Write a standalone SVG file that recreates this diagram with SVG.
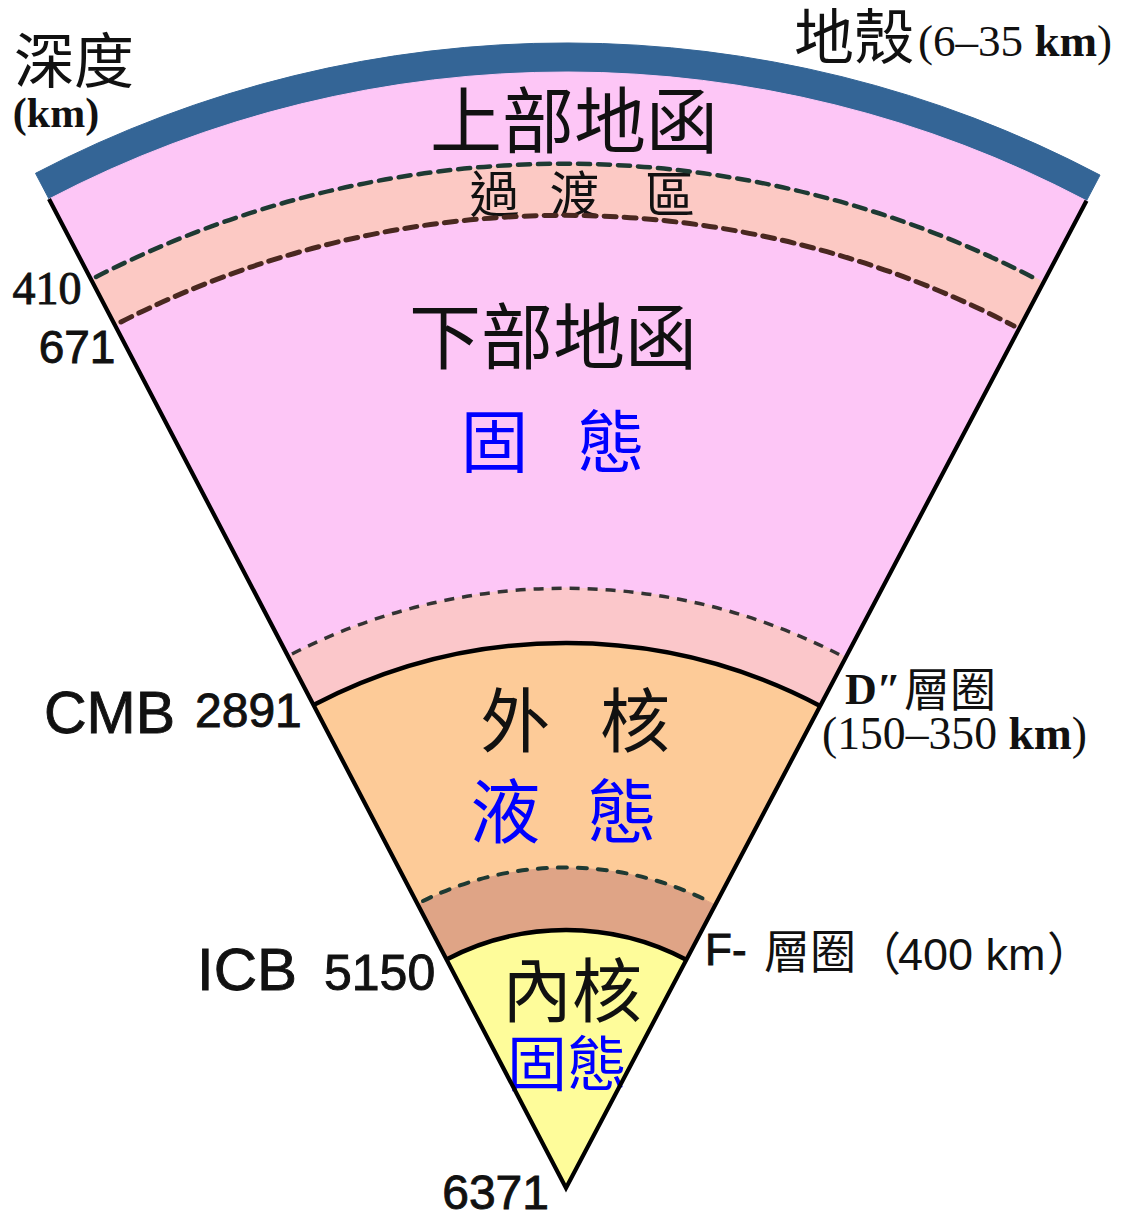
<svg xmlns="http://www.w3.org/2000/svg" width="1124" height="1215" viewBox="0 0 1124 1215">
<style>
.cjk{font-family:"Noto Sans CJK TC","Noto Sans CJK SC",sans-serif;fill:#111}
.blue{fill:#0000ff}
.sans{font-family:"Liberation Sans",Arial,sans-serif;fill:#111}
.heavy{stroke:#111;stroke-width:0.9}
.serif{font-family:"Liberation Serif","Times New Roman",serif;fill:#111}
.bold{font-weight:bold}
.edge{fill:none;stroke:#000;stroke-width:4.2;stroke-linejoin:miter}
.solid{fill:none;stroke:#000;stroke-width:4.5}
.dashA{fill:none;stroke:#1e3a33;stroke-width:4.5;stroke-dasharray:12 8;stroke-linecap:round}
.dashB{fill:none;stroke:#4a2820;stroke-width:5;stroke-dasharray:12 8;stroke-linecap:round}
.dashC{fill:none;stroke:#333;stroke-width:3.5;stroke-dasharray:10 8}
.dashD{fill:none;stroke:#1e3a33;stroke-width:4;stroke-dasharray:9 11;stroke-linecap:round}
</style>
<rect width="1124" height="1215" fill="#fff"/>

<g id="crust">
<path d="M35.5,173.3 A1145,1145 0 0 1 1100,175.1 L1086.5,200.8 A1116,1116 0 0 0 49,199 Z" fill="#346596" stroke="#346596" stroke-width="1"/>
</g>

<g id="upper-mantle">
<path d="M49,199 A1116,1116 0 0 1 1086.5,200.8 L1043.6,282.2 A1024,1024 0 0 0 91.6,280.5 Z" fill="#fdc6f6" stroke="#fdc6f6" stroke-width="1"/>
<text class="cjk" x="574" y="147" font-size="72" text-anchor="middle">上部地函</text>
</g>

<g id="transition-zone">
<path d="M91.6,280.5 A1024,1024 0 0 1 1043.6,282.2 L1019.3,328.2 A972,972 0 0 0 115.7,326.6 Z" fill="#fcc9c4" stroke="#fcc9c4" stroke-width="1"/>
<text class="cjk" y="213" font-size="50" text-anchor="middle"><tspan x="500">過</tspan> <tspan x="580">渡</tspan> <tspan x="670">區</tspan></text>
</g>

<g id="lower-mantle">
<path d="M115.7,326.6 A972,972 0 0 1 1019.3,328.2 L845.8,657.2 A600,600 0 0 0 288,656.3 Z" fill="#fdc6f6" stroke="#fdc6f6" stroke-width="1"/>
<text class="cjk" x="553" y="363" font-size="72" text-anchor="middle">下部地函</text>
<text class="cjk blue" y="467" font-size="68" text-anchor="middle"><tspan x="502">固</tspan> <tspan x="611">態</tspan></text>
</g>

<g id="d-double-prime">
<path d="M288,656.3 A600,600 0 0 1 845.8,657.2 L820.2,705.9 A545,545 0 0 0 313.5,705 Z" fill="#fbc7ca" stroke="#fbc7ca" stroke-width="1"/>
</g>

<g id="outer-core">
<path d="M313.5,705 A545,545 0 0 1 820.2,705.9 L715.2,904.9 A320,320 0 0 0 417.7,904.4 Z" fill="#fdcb98" stroke="#fdcb98" stroke-width="1"/>
<text class="cjk" y="747" font-size="70" text-anchor="middle"><tspan x="523">外</tspan> <tspan x="635">核</tspan></text>
<text class="cjk blue" y="838" font-size="70" text-anchor="middle"><tspan x="513">液</tspan> <tspan x="622">態</tspan></text>
</g>

<g id="f-layer">
<path d="M417.7,904.4 A320,320 0 0 1 715.2,904.9 L686.3,959.8 A258,258 0 0 0 446.5,959.4 Z" fill="#dfa486" stroke="#dfa486" stroke-width="1"/>
</g>

<g id="inner-core">
<path d="M446.5,959.4 A258,258 0 0 1 686.3,959.8 L566,1188 Z" fill="#fefc9a" stroke="#fefc9a" stroke-width="1"/>
<text class="cjk" x="572" y="1017" font-size="70" text-anchor="middle">內核</text>
<text class="cjk blue" x="567" y="1086" font-size="60" text-anchor="middle">固態</text>
</g>

<g id="connectors">
<path class="dashA" d="M96,277 A1024,1024 0 0 1 1038,280"/>
<path class="dashB" d="M121,322 A972,972 0 0 1 1014,326"/>
<path class="dashC" d="M292,654 A600,600 0 0 1 842,656"/>
<path class="dashD" d="M423,901 A320,320 0 0 1 710,902"/>
<path class="solid" d="M313.5,705 A545,545 0 0 1 820.2,705.9"/>
<path class="solid" d="M446.5,959.4 A258,258 0 0 1 686.3,959.8"/>
<path class="edge" d="M49,199 L566,1188 L1086.5,200.8"/>
</g>

<g id="labels">
<text class="cjk" x="74" y="83" font-size="60" text-anchor="middle">深度</text>
<text class="serif bold" x="56" y="127" font-size="42" text-anchor="middle">(km)</text>
<text class="serif heavy" x="47" y="304" font-size="46" text-anchor="middle">410</text>
<text class="sans heavy" x="77" y="363" font-size="46" text-anchor="middle">671</text>
<text class="sans heavy" x="44" y="733" font-size="59">CMB</text>
<text class="sans heavy" x="195" y="727" font-size="48">2891</text>
<text class="sans heavy" x="197" y="990" font-size="60">ICB</text>
<text class="sans heavy" x="324" y="990" font-size="50">5150</text>
<text class="sans heavy" x="549" y="1209" font-size="48" text-anchor="end">6371</text>
<text class="cjk" x="794" y="59" font-size="60">地殼</text>
<text class="serif" x="918" y="56" font-size="44" textLength="194" lengthAdjust="spacingAndGlyphs">(6–35 <tspan class="bold">km</tspan>)</text>
<text y="704"><tspan class="serif bold" x="845" font-size="44">D″</tspan> <tspan class="cjk" x="904" y="706" font-size="46">層圈</tspan></text>
<text class="serif" x="822" y="749" font-size="46" textLength="265" lengthAdjust="spacingAndGlyphs">(150–350 <tspan class="bold">km</tspan>)</text>
<text y="965"><tspan class="sans heavy" x="705" font-size="44">F-</tspan> <tspan class="cjk" x="764" y="968" font-size="46">層圈</tspan><tspan class="cjk" x="855" y="970" font-size="46">（</tspan><tspan class="sans" x="898" y="970" font-size="45">400 km</tspan><tspan class="cjk" x="1047" y="970" font-size="46">）</tspan></text>
</g>
</svg>
